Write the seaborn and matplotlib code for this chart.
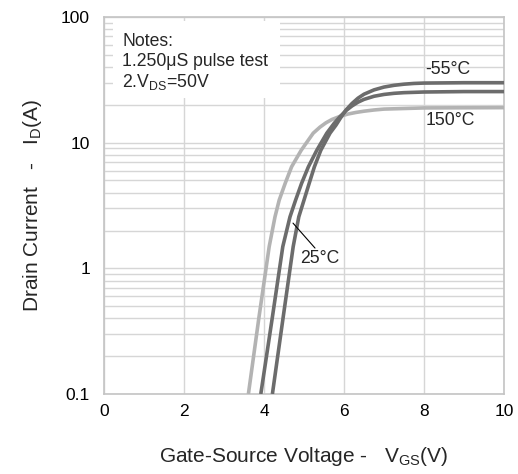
import matplotlib
matplotlib.use("Agg")
import matplotlib.pyplot as plt
import seaborn as sns
import pandas as pd
from matplotlib.patches import Rectangle
from matplotlib.ticker import LogLocator, NullFormatter

# ---- data ----
v_150 = [3.61, 3.875, 4.13, 4.275, 4.38, 4.53, 4.69, 4.93, 5.23, 5.4, 5.55, 5.7, 5.9,
         6.1, 6.3, 6.5, 6.75, 7.0, 7.5, 8.0, 10.0]
i_150 = [0.1, 0.41, 1.49, 2.57, 3.49, 4.75, 6.43, 8.7, 11.9, 13.3, 14.4, 15.3, 16.2,
         16.9, 17.4, 17.8, 18.2, 18.5, 18.7, 18.9, 19.0]

v_25 = [3.92, 4.21, 4.47, 4.65, 4.79, 4.94, 5.11, 5.32, 5.57, 5.75, 5.9, 6.05, 6.2,
        6.35, 6.5, 6.75, 7.0, 7.25, 7.5, 8.0, 9.0, 10.0]
i_25 = [0.1, 0.41, 1.49, 2.57, 3.49, 4.75, 6.43, 8.7, 11.9, 14.2, 16.1, 18.0, 19.6,
        21.0, 22.1, 23.4, 24.2, 24.7, 25.0, 25.3, 25.5, 25.5]

v_m55 = [4.21, 4.48, 4.73, 4.87, 5.0, 5.13, 5.26, 5.42, 5.65, 5.8, 5.9, 6.05, 6.2,
         6.35, 6.5, 6.75, 7.0, 7.25, 7.5, 7.75, 8.0, 9.0, 10.0]
i_m55 = [0.1, 0.41, 1.49, 2.57, 3.49, 4.75, 6.43, 8.7, 11.9, 13.8, 15.5, 18.2, 20.5,
         22.6, 24.3, 26.3, 27.7, 28.6, 29.2, 29.6, 29.8, 30.0, 30.0]

series_names = ["150°C", "25°C", "-55°C"]
x_ticks = [0, 2, 4, 6, 8, 10]
y_ticks = [0.1, 1, 10, 100]
y_tick_labels = ["0.1", "1", "10", "100"]
notes = ["Notes:", "1.250μS pulse test", "2.V$_\\mathregular{DS}$=50V"]

# ---- build table ----
frames = []
for name, vv, ii in zip(series_names, [v_150, v_25, v_m55], [i_150, i_25, i_m55]):
    frames.append(pd.DataFrame({"V": vv, "I": ii, "T": name}))
df = pd.concat(frames, ignore_index=True)

sns.set_theme(style="white")
plt.rcParams["font.family"] = ["Liberation Sans", "DejaVu Sans"]
plt.rcParams["mathtext.fontset"] = "custom"
plt.rcParams["mathtext.rm"] = "Liberation Sans"
plt.rcParams["mathtext.it"] = "Liberation Sans:italic"
plt.rcParams["mathtext.bf"] = "Liberation Sans:bold"

fig = plt.figure(figsize=(5.18, 4.74), dpi=100)
ax = fig.add_axes([104 / 518, 1 - 394 / 474, 400 / 518, 377 / 474])

palette = {"150°C": "#b3b3b3", "25°C": "#6c6c6c", "-55°C": "#6c6c6c"}
sns.lineplot(data=df, x="V", y="I", hue="T", palette=palette, legend=False,
             sort=False, linewidth=2.6, ax=ax, zorder=3,
             solid_joinstyle="round", solid_capstyle="butt")

ax.set_yscale("log")
ax.set_xlim(0, 10)
ax.set_ylim(0.1, 100)

ax.set_xticks(x_ticks)
ax.set_xticklabels([str(t) for t in x_ticks])
ax.set_yticks(y_ticks)
ax.set_yticklabels(y_tick_labels)
ax.yaxis.set_minor_locator(LogLocator(base=10, subs=range(2, 10)))
ax.yaxis.set_minor_formatter(NullFormatter())

grid_c = "#d6d6d6"
ax.set_axisbelow(True)
ax.grid(True, which="major", axis="both", color=grid_c, linewidth=1.0)
ax.grid(True, which="minor", axis="y", color=grid_c, linewidth=1.0)
ax.tick_params(axis="both", which="both", length=0, labelsize=12.5, colors="black")
ax.tick_params(axis="y", pad=10)
ax.tick_params(axis="x", pad=7)
for s in ax.spines.values():
    s.set_color("#c4c4c4")
    s.set_linewidth(1.2)

ax.set_xlabel("Gate-Source Voltage -   V$_\\mathregular{GS}$(V)", fontsize=15, labelpad=19)
ax.set_ylabel("Drain Current   -   I$_\\mathregular{D}$(A)", fontsize=15, labelpad=12)

# notes box
ax.add_patch(Rectangle((0.0225, 0.785), 0.4175, 0.205, transform=ax.transAxes,
                       facecolor="white", edgecolor="none", zorder=2))
for txt, yy in zip(notes, [0.934, 0.881, 0.828]):
    ax.text(0.045, yy, txt, transform=ax.transAxes, fontsize=12.7,
            ha="left", va="center", zorder=4)

# curve labels
ax.text(8.03, 37.9, "-55°C", fontsize=12.7, ha="left", va="center", zorder=4)
ax.text(8.03, 14.9, "150°C", fontsize=12.7, ha="left", va="center", zorder=4)
ax.text(5.4, 1.19, "25°C", fontsize=12.7, ha="center", va="center", zorder=4)
ax.plot([4.725, 5.275], [2.29, 1.45], color="black", linewidth=0.8, zorder=4)

fig.savefig("out.png", dpi=100)
